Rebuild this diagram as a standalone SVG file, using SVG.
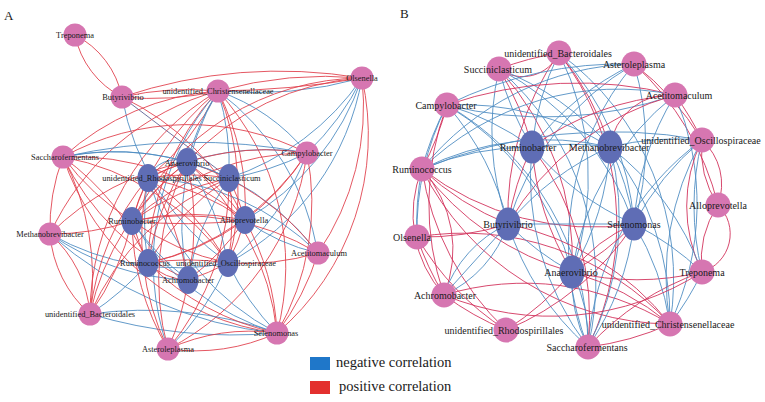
<svg xmlns="http://www.w3.org/2000/svg" width="765" height="402" viewBox="0 0 765 402">
<style>
path{fill:none;stroke-width:1;opacity:.88}
.ra{stroke:#e0404c}
.rb{stroke:#d2305a}
.b{stroke:#4d8cc2}
.d{stroke:#5b5f92}
.p{fill:#d676b1}
.n{fill:#5f6db5}
text{font-family:"Liberation Serif","Times New Roman",serif;fill:#1a1a1a;text-anchor:middle}
.la{font-size:8.4px}
.lb{font-size:10px}
.lg{font-size:14.5px;text-anchor:start}
.pl{font-size:13px;text-anchor:start}
</style>
<rect width="765" height="402" fill="#fff"/>
<text class="pl" x="4" y="20">A</text>
<text class="pl" x="400" y="18">B</text>
<g id="edges-a">
<path class="ra" d="M75 35A90 90 0 0 1 122 97"/>
<path class="ra" d="M75 35A90 90 0 0 0 122 97"/>
<path class="ra" d="M122 97A300 300 0 0 1 218 91"/>
<path class="ra" d="M122 97A300 300 0 0 0 218 91"/>
<path class="ra" d="M122 97A500 500 0 0 1 362 78"/>
<path class="ra" d="M218 91A400 400 0 0 1 362 78"/>
<path class="b" d="M218 91A400 400 0 0 0 362 78"/>
<path class="ra" d="M218 91A900 900 0 0 0 362 78"/>
<path class="d" d="M122 97L229 178"/>
<path class="ra" d="M122 97A260 260 0 0 1 245 220"/>
<path class="b" d="M122 97A260 260 0 0 0 228 263"/>
<path class="ra" d="M218 91A260 260 0 0 0 63 157"/>
<path class="ra" d="M218 91A260 260 0 0 0 132 221"/>
<path class="ra" d="M218 91A260 260 0 0 1 148 178"/>
<path class="b" d="M218 91A260 260 0 0 0 187 162"/>
<path class="ra" d="M218 91A260 260 0 0 0 148 263"/>
<path class="b" d="M218 91A260 260 0 0 0 188 280"/>
<path class="ra" d="M218 91A260 260 0 0 1 228 263"/>
<path class="b" d="M218 91A260 260 0 0 1 229 178"/>
<path class="ra" d="M218 91A260 260 0 0 1 245 220"/>
<path class="b" d="M218 91A200 200 0 0 1 307 153"/>
<path class="b" d="M218 91A260 260 0 0 1 318 253"/>
<path class="ra" d="M218 91A260 260 0 0 1 277 333"/>
<path class="ra" d="M218 91A260 260 0 0 0 50 234"/>
<path class="ra" d="M218 91A260 260 0 0 0 90 314"/>
<path class="b" d="M218 91A260 260 0 0 0 168 349"/>
<path class="b" d="M362 78A260 260 0 0 1 307 153"/>
<path class="b" d="M362 78A260 260 0 0 1 229 178"/>
<path class="b" d="M362 78A260 260 0 0 1 245 220"/>
<path class="ra" d="M362 78A260 260 0 0 0 187 162"/>
<path class="ra" d="M362 78A260 260 0 0 1 318 253"/>
<path class="ra" d="M362 78A260 260 0 0 1 277 333"/>
<path class="b" d="M362 78A260 260 0 0 1 228 263"/>
<path class="ra" d="M362 78A260 260 0 0 0 132 221"/>
<path class="b" d="M63 157A260 260 0 0 1 187 162"/>
<path class="b" d="M63 157A600 600 0 0 1 307 153"/>
<path class="ra" d="M63 157A260 260 0 0 1 307 153"/>
<path class="ra" d="M63 157A260 260 0 0 0 132 221"/>
<path class="ra" d="M63 157A260 260 0 0 1 148 263"/>
<path class="ra" d="M63 157A260 260 0 0 0 188 280"/>
<path class="ra" d="M63 157A260 260 0 0 1 228 263"/>
<path class="ra" d="M63 157A260 260 0 0 1 245 220"/>
<path class="ra" d="M63 157A200 200 0 0 0 50 234"/>
<path class="ra" d="M63 157A260 260 0 0 1 90 314"/>
<path class="ra" d="M63 157A260 260 0 0 0 277 333"/>
<path class="b" d="M63 157A260 260 0 0 1 229 178"/>
<path class="b" d="M307 153A260 260 0 0 0 187 162"/>
<path class="ra" d="M307 153A260 260 0 0 0 148 178"/>
<path class="b" d="M307 153A260 260 0 0 1 229 178"/>
<path class="ra" d="M307 153A260 260 0 0 1 245 220"/>
<path class="b" d="M307 153A260 260 0 0 1 228 263"/>
<path class="ra" d="M307 153A260 260 0 0 1 148 263"/>
<path class="ra" d="M307 153A260 260 0 0 0 132 221"/>
<path class="ra" d="M307 153A260 260 0 0 1 277 333"/>
<path class="ra" d="M307 153A260 260 0 0 1 168 349"/>
<path class="b" d="M318 253A260 260 0 0 0 229 178"/>
<path class="b" d="M318 253A200 200 0 0 1 245 220"/>
<path class="ra" d="M318 253A260 260 0 0 0 187 162"/>
<path class="ra" d="M318 253A260 260 0 0 0 132 221"/>
<path class="b" d="M318 253A260 260 0 0 0 148 178"/>
<path class="ra" d="M318 253A260 260 0 0 1 228 263"/>
<path class="ra" d="M50 234A260 260 0 0 0 132 221"/>
<path class="ra" d="M50 234A120 120 0 0 0 90 314"/>
<path class="ra" d="M50 234A120 120 0 0 1 90 314"/>
<path class="b" d="M50 234A400 400 0 0 0 277 333"/>
<path class="b" d="M50 234A260 260 0 0 0 228 263"/>
<path class="b" d="M50 234A260 260 0 0 0 188 280"/>
<path class="ra" d="M50 234A260 260 0 0 1 187 162"/>
<path class="ra" d="M90 314A260 260 0 0 0 132 221"/>
<path class="ra" d="M90 314A260 260 0 0 1 148 178"/>
<path class="ra" d="M90 314A260 260 0 0 1 187 162"/>
<path class="b" d="M90 314A260 260 0 0 0 148 263"/>
<path class="b" d="M90 314A500 500 0 0 0 277 333"/>
<path class="b" d="M90 314A400 400 0 0 1 277 333"/>
<path class="ra" d="M90 314A260 260 0 0 1 229 178"/>
<path class="b" d="M277 333A260 260 0 0 1 228 263"/>
<path class="ra" d="M277 333A260 260 0 0 0 245 220"/>
<path class="ra" d="M277 333A260 260 0 0 1 148 263"/>
<path class="b" d="M277 333A260 260 0 0 1 148 178"/>
<path class="ra" d="M277 333A260 260 0 0 0 318 253"/>
<path class="ra" d="M277 333A200 200 0 0 1 168 349"/>
<path class="ra" d="M277 333A200 200 0 0 0 168 349"/>
<path class="b" d="M277 333A260 260 0 0 1 132 221"/>
<path class="ra" d="M277 333A260 260 0 0 0 187 162"/>
<path class="ra" d="M168 349A260 260 0 0 1 132 221"/>
<path class="ra" d="M168 349A260 260 0 0 1 148 178"/>
<path class="ra" d="M168 349A260 260 0 0 0 229 178"/>
<path class="ra" d="M168 349A260 260 0 0 0 188 280"/>
<path class="b" d="M168 349A260 260 0 0 0 228 263"/>
<path class="ra" d="M168 349A260 260 0 0 1 187 162"/>
<path class="ra" d="M187 162A260 260 0 0 0 148 178"/>
<path class="b" d="M187 162A30 30 0 0 0 148 178"/>
<path class="b" d="M187 162A260 260 0 0 1 229 178"/>
<path class="ra" d="M187 162A260 260 0 0 0 132 221"/>
<path class="ra" d="M187 162A260 260 0 0 1 245 220"/>
<path class="ra" d="M187 162A260 260 0 0 0 148 263"/>
<path class="b" d="M187 162A260 260 0 0 1 228 263"/>
<path class="ra" d="M187 162A260 260 0 0 1 188 280"/>
<path class="ra" d="M148 178A260 260 0 0 1 229 178"/>
<path class="ra" d="M148 178A260 260 0 0 0 132 221"/>
<path class="ra" d="M148 178A260 260 0 0 1 245 220"/>
<path class="b" d="M148 178A260 260 0 0 0 148 263"/>
<path class="ra" d="M148 178A260 260 0 0 1 228 263"/>
<path class="ra" d="M148 178A260 260 0 0 1 188 280"/>
<path class="ra" d="M229 178A260 260 0 0 0 132 221"/>
<path class="ra" d="M229 178A260 260 0 0 1 245 220"/>
<path class="ra" d="M229 178A260 260 0 0 0 148 263"/>
<path class="ra" d="M229 178A260 260 0 0 1 228 263"/>
<path class="b" d="M229 178A260 260 0 0 0 188 280"/>
<path class="ra" d="M132 221A260 260 0 0 1 245 220"/>
<path class="ra" d="M132 221A500 500 0 0 0 245 220"/>
<path class="ra" d="M132 221A260 260 0 0 0 148 263"/>
<path class="ra" d="M132 221A260 260 0 0 0 228 263"/>
<path class="b" d="M132 221A260 260 0 0 0 188 280"/>
<path class="ra" d="M245 220A260 260 0 0 1 148 263"/>
<path class="ra" d="M245 220A260 260 0 0 1 228 263"/>
<path class="ra" d="M245 220A260 260 0 0 1 188 280"/>
<path class="ra" d="M148 263A260 260 0 0 1 228 263"/>
<path class="ra" d="M148 263A60 60 0 0 0 188 280"/>
<path class="ra" d="M228 263A260 260 0 0 1 188 280"/>
</g>
<g id="edges-b">
<path class="rb" d="M499 69A40 40 0 0 0 559 53"/>
<path class="rb" d="M499 69A300 300 0 0 1 559 53"/>
<path class="b" d="M499 69A280 280 0 0 0 532 147"/>
<path class="rb" d="M499 69A280 280 0 0 1 532 147"/>
<path class="b" d="M499 69A280 280 0 0 0 508 224"/>
<path class="rb" d="M499 69A280 280 0 0 1 572 272"/>
<path class="b" d="M499 69A280 280 0 0 1 634 224"/>
<path class="b" d="M499 69A280 280 0 0 1 610 147"/>
<path class="b" d="M499 69A280 280 0 0 1 588 347"/>
<path class="b" d="M559 53A280 280 0 0 0 532 147"/>
<path class="rb" d="M559 53A280 280 0 0 0 508 224"/>
<path class="b" d="M559 53A280 280 0 0 1 572 272"/>
<path class="rb" d="M559 53A280 280 0 0 1 588 347"/>
<path class="b" d="M559 53A280 280 0 0 1 634 224"/>
<path class="rb" d="M559 53A280 280 0 0 1 610 147"/>
<path class="b" d="M559 53A280 280 0 0 1 670 324"/>
<path class="b" d="M634 64A400 400 0 0 0 447 105"/>
<path class="b" d="M634 64A280 280 0 0 0 422 169"/>
<path class="b" d="M634 64A280 280 0 0 0 532 147"/>
<path class="b" d="M634 64A280 280 0 0 0 508 224"/>
<path class="rb" d="M634 64A280 280 0 0 1 702 140"/>
<path class="rb" d="M634 64A280 280 0 0 1 718 205"/>
<path class="b" d="M634 64A280 280 0 0 1 634 224"/>
<path class="b" d="M634 64A280 280 0 0 0 588 347"/>
<path class="rb" d="M675 95A400 400 0 0 0 447 105"/>
<path class="b" d="M675 95A400 400 0 0 1 447 105"/>
<path class="rb" d="M675 95A280 280 0 0 0 532 147"/>
<path class="rb" d="M675 95A60 60 0 0 0 610 147"/>
<path class="rb" d="M675 95A280 280 0 0 1 702 140"/>
<path class="b" d="M675 95A280 280 0 0 0 634 224"/>
<path class="b" d="M675 95A280 280 0 0 0 572 272"/>
<path class="b" d="M675 95A280 280 0 0 1 670 324"/>
<path class="rb" d="M675 95A280 280 0 0 0 508 224"/>
<path class="b" d="M675 95A280 280 0 0 0 422 169"/>
<path class="b" d="M447 105A280 280 0 0 0 422 169"/>
<path class="rb" d="M447 105A280 280 0 0 1 422 169"/>
<path class="b" d="M447 105A280 280 0 0 0 417 237"/>
<path class="rb" d="M447 105A280 280 0 0 0 444 295"/>
<path class="b" d="M447 105A280 280 0 0 1 508 224"/>
<path class="b" d="M447 105A280 280 0 0 1 532 147"/>
<path class="b" d="M447 105A280 280 0 0 1 610 147"/>
<path class="b" d="M447 105A280 280 0 0 1 572 272"/>
<path class="b" d="M447 105A280 280 0 0 1 588 347"/>
<path class="b" d="M422 169A280 280 0 0 0 417 237"/>
<path class="rb" d="M422 169A120 120 0 0 0 444 295"/>
<path class="rb" d="M422 169A120 120 0 0 1 444 295"/>
<path class="rb" d="M422 169A280 280 0 0 0 508 224"/>
<path class="rb" d="M422 169A280 280 0 0 0 572 272"/>
<path class="b" d="M422 169A280 280 0 0 1 610 147"/>
<path class="b" d="M422 169A500 500 0 0 1 702 140"/>
<path class="b" d="M422 169A280 280 0 0 1 532 147"/>
<path class="rb" d="M422 169A280 280 0 0 0 634 224"/>
<path class="rb" d="M422 169A280 280 0 0 0 670 324"/>
<path class="rb" d="M702 140A60 60 0 0 1 718 205"/>
<path class="rb" d="M702 140A100 100 0 0 0 718 205"/>
<path class="b" d="M702 140A280 280 0 0 0 702 272"/>
<path class="rb" d="M702 140A150 150 0 0 0 702 272"/>
<path class="b" d="M702 140A280 280 0 0 0 610 147"/>
<path class="b" d="M702 140A280 280 0 0 0 670 324"/>
<path class="b" d="M702 140A280 280 0 0 0 634 224"/>
<path class="b" d="M702 140A280 280 0 0 0 588 347"/>
<path class="rb" d="M718 205A40 40 0 0 1 702 272"/>
<path class="rb" d="M718 205A100 100 0 0 0 702 272"/>
<path class="b" d="M702 272A280 280 0 0 0 634 224"/>
<path class="b" d="M702 272A280 280 0 0 0 610 147"/>
<path class="rb" d="M702 272A280 280 0 0 0 588 347"/>
<path class="rb" d="M702 272A280 280 0 0 1 572 272"/>
<path class="b" d="M702 272A280 280 0 0 1 670 324"/>
<path class="rb" d="M670 324A280 280 0 0 0 444 295"/>
<path class="rb" d="M670 324A280 280 0 0 0 417 237"/>
<path class="b" d="M670 324A280 280 0 0 0 634 224"/>
<path class="b" d="M670 324A280 280 0 0 0 610 147"/>
<path class="rb" d="M670 324A280 280 0 0 1 588 347"/>
<path class="rb" d="M670 324A280 280 0 0 0 572 272"/>
<path class="rb" d="M670 324A280 280 0 0 0 508 224"/>
<path class="b" d="M588 347A150 150 0 0 0 572 272"/>
<path class="b" d="M588 347A150 150 0 0 1 572 272"/>
<path class="b" d="M588 347A280 280 0 0 1 508 224"/>
<path class="b" d="M588 347A280 280 0 0 1 532 147"/>
<path class="b" d="M588 347A280 280 0 0 0 610 147"/>
<path class="b" d="M588 347A280 280 0 0 0 634 224"/>
<path class="rb" d="M588 347A280 280 0 0 0 532 147"/>
<path class="rb" d="M506 330A280 280 0 0 1 417 237"/>
<path class="rb" d="M506 330A280 280 0 0 1 444 295"/>
<path class="rb" d="M506 330A280 280 0 0 0 572 272"/>
<path class="rb" d="M506 330A280 280 0 0 0 634 224"/>
<path class="rb" d="M506 330A280 280 0 0 1 422 169"/>
<path class="b" d="M444 295A120 120 0 0 0 508 224"/>
<path class="b" d="M444 295A120 120 0 0 1 508 224"/>
<path class="b" d="M444 295L508 224"/>
<path class="rb" d="M444 295A280 280 0 0 1 417 237"/>
<path class="rb" d="M444 295A280 280 0 0 0 702 272"/>
<path class="rb" d="M417 237A280 280 0 0 0 508 224"/>
<path class="b" d="M508 224L634 224"/>
<path class="b" d="M508 224A280 280 0 0 1 610 147"/>
<path class="b" d="M508 224A280 280 0 0 0 572 272"/>
<path class="rb" d="M508 224A280 280 0 0 1 532 147"/>
<path class="b" d="M532 147A280 280 0 0 1 610 147"/>
<path class="b" d="M532 147A280 280 0 0 0 634 224"/>
<path class="rb" d="M532 147A280 280 0 0 0 572 272"/>
<path class="b" d="M610 147A280 280 0 0 1 572 272"/>
<path class="rb" d="M634 224A280 280 0 0 1 572 272"/>
<path class="rb" d="M634 224A150 150 0 0 0 572 272"/>
<path class="b" d="M610 147A280 280 0 0 1 634 224"/>
</g>
<g id="a-treponema"><circle class="p" cx="75" cy="35" r="11.5"/><text class="la" x="75" y="38">Treponema</text></g>
<g id="a-butyrivibrio"><circle class="p" cx="122" cy="97" r="11.5"/><text class="la" x="123" y="100">Butyrivibrio</text></g>
<g id="a-christensenellaceae"><circle class="p" cx="218" cy="91" r="11.5"/><text class="la" x="218" y="94">unidentified_Christensenellaceae</text></g>
<g id="a-olsenella"><circle class="p" cx="362" cy="78" r="11.5"/><text class="la" x="362" y="81">Olsenella</text></g>
<g id="a-saccharofermentans"><circle class="p" cx="63" cy="157" r="11.5"/><text class="la" x="65" y="160">Saccharofermentans</text></g>
<g id="a-campylobacter"><circle class="p" cx="307" cy="153" r="11.5"/><text class="la" x="307" y="156">Campylobacter</text></g>
<g id="a-anaerovibrio"><ellipse class="n" cx="187" cy="162" rx="10.5" ry="14"/><text class="la" x="187" y="166">Anaerovibrio</text></g>
<g id="a-rhodospirillales"><ellipse class="n" cx="148" cy="178" rx="10.5" ry="14"/><text class="la" x="152" y="181">unidentified_Rhodospirillales</text></g>
<g id="a-succiniclasticum"><ellipse class="n" cx="229" cy="178" rx="10.5" ry="14"/><text class="la" x="232" y="181">Succiniclasticum</text></g>
<g id="a-ruminobacter"><ellipse class="n" cx="132" cy="221" rx="10.5" ry="14"/><text class="la" x="132" y="224">Ruminobacter</text></g>
<g id="a-alloprevotella"><ellipse class="n" cx="245" cy="220" rx="10.5" ry="14"/><text class="la" x="244" y="223">Alloprevotella</text></g>
<g id="a-methanobrevibacter"><circle class="p" cx="50" cy="234" r="11.5"/><text class="la" x="50" y="237">Methanobrevibacter</text></g>
<g id="a-acetitomaculum"><circle class="p" cx="318" cy="253" r="11.5"/><text class="la" x="319" y="256">Acetitomaculum</text></g>
<g id="a-ruminococcus"><ellipse class="n" cx="148" cy="263" rx="10.5" ry="14"/><text class="la" x="145" y="266">Ruminococcus</text></g>
<g id="a-oscillospiraceae"><ellipse class="n" cx="228" cy="263" rx="10.5" ry="14"/><text class="la" x="226" y="266">unidentified_Oscillospiraceae</text></g>
<g id="a-achromobacter"><ellipse class="n" cx="188" cy="280" rx="10.5" ry="14"/><text class="la" x="188" y="283">Achromobacter</text></g>
<g id="a-bacteroidales"><circle class="p" cx="90" cy="314" r="11.5"/><text class="la" x="90" y="317">unidentified_Bacteroidales</text></g>
<g id="a-selenomonas"><circle class="p" cx="277" cy="333" r="11.5"/><text class="la" x="276" y="336">Selenomonas</text></g>
<g id="a-asteroleplasma"><circle class="p" cx="168" cy="349" r="11.5"/><text class="la" x="168" y="352">Asteroleplasma</text></g>
<g id="b-bacteroidales"><circle class="p" cx="559" cy="53" r="12.5"/><text class="lb" x="558" y="57">unidentified_Bacteroidales</text></g>
<g id="b-succiniclasticum"><circle class="p" cx="499" cy="69" r="12.5"/><text class="lb" x="498" y="73">Succiniclasticum</text></g>
<g id="b-asteroleplasma"><circle class="p" cx="634" cy="64" r="12.5"/><text class="lb" x="634" y="68">Asteroleplasma</text></g>
<g id="b-acetitomaculum"><circle class="p" cx="675" cy="95" r="12.5"/><text class="lb" x="679" y="99">Acetitomaculum</text></g>
<g id="b-campylobacter"><circle class="p" cx="447" cy="105" r="12.5"/><text class="lb" x="446" y="109">Campylobacter</text></g>
<g id="b-ruminobacter"><ellipse class="n" cx="532" cy="147" rx="12.5" ry="16.5"/><text class="lb" x="528" y="151">Ruminobacter</text></g>
<g id="b-methanobrevibacter"><ellipse class="n" cx="610" cy="147" rx="12.5" ry="16.5"/><text class="lb" x="609" y="151">Methanobrevibacter</text></g>
<g id="b-oscillospiraceae"><circle class="p" cx="702" cy="140" r="12.5"/><text class="lb" x="701" y="144">unidentified_Oscillospiraceae</text></g>
<g id="b-ruminococcus"><circle class="p" cx="422" cy="169" r="12.5"/><text class="lb" x="422" y="173">Ruminococcus</text></g>
<g id="b-alloprevotella"><circle class="p" cx="718" cy="205" r="12.5"/><text class="lb" x="718" y="209">Alloprevotella</text></g>
<g id="b-olsenella"><circle class="p" cx="417" cy="237" r="12.5"/><text class="lb" x="412" y="241">Olsenella</text></g>
<g id="b-butyrivibrio"><ellipse class="n" cx="508" cy="224" rx="12.5" ry="16.5"/><text class="lb" x="508" y="228">Butyrivibrio</text></g>
<g id="b-selenomonas"><ellipse class="n" cx="634" cy="224" rx="12.5" ry="16.5"/><text class="lb" x="634" y="228">Selenomonas</text></g>
<g id="b-anaerovibrio"><ellipse class="n" cx="572" cy="272" rx="12.5" ry="16.5"/><text class="lb" x="571" y="276">Anaerovibrio</text></g>
<g id="b-treponema"><circle class="p" cx="702" cy="272" r="12.5"/><text class="lb" x="702" y="276">Treponema</text></g>
<g id="b-achromobacter"><circle class="p" cx="444" cy="295" r="12.5"/><text class="lb" x="445" y="299">Achromobacter</text></g>
<g id="b-rhodospirillales"><circle class="p" cx="506" cy="330" r="12.5"/><text class="lb" x="504" y="334">unidentified_Rhodospirillales</text></g>
<g id="b-saccharofermentans"><circle class="p" cx="588" cy="347" r="12.5"/><text class="lb" x="587" y="351">Saccharofermentans</text></g>
<g id="b-christensenellaceae"><circle class="p" cx="670" cy="324" r="12.5"/><text class="lb" x="668" y="328">unidentified_Christensenellaceae</text></g>
<g id="legend">
<rect x="310" y="357" width="20" height="13" fill="#1f77c9"/>
<text class="lg" x="336" y="367">negative correlation</text>
<rect x="310" y="381" width="20" height="13" fill="#e3302e"/>
<text class="lg" x="339" y="391">positive correlation</text>
</g>
</svg>
